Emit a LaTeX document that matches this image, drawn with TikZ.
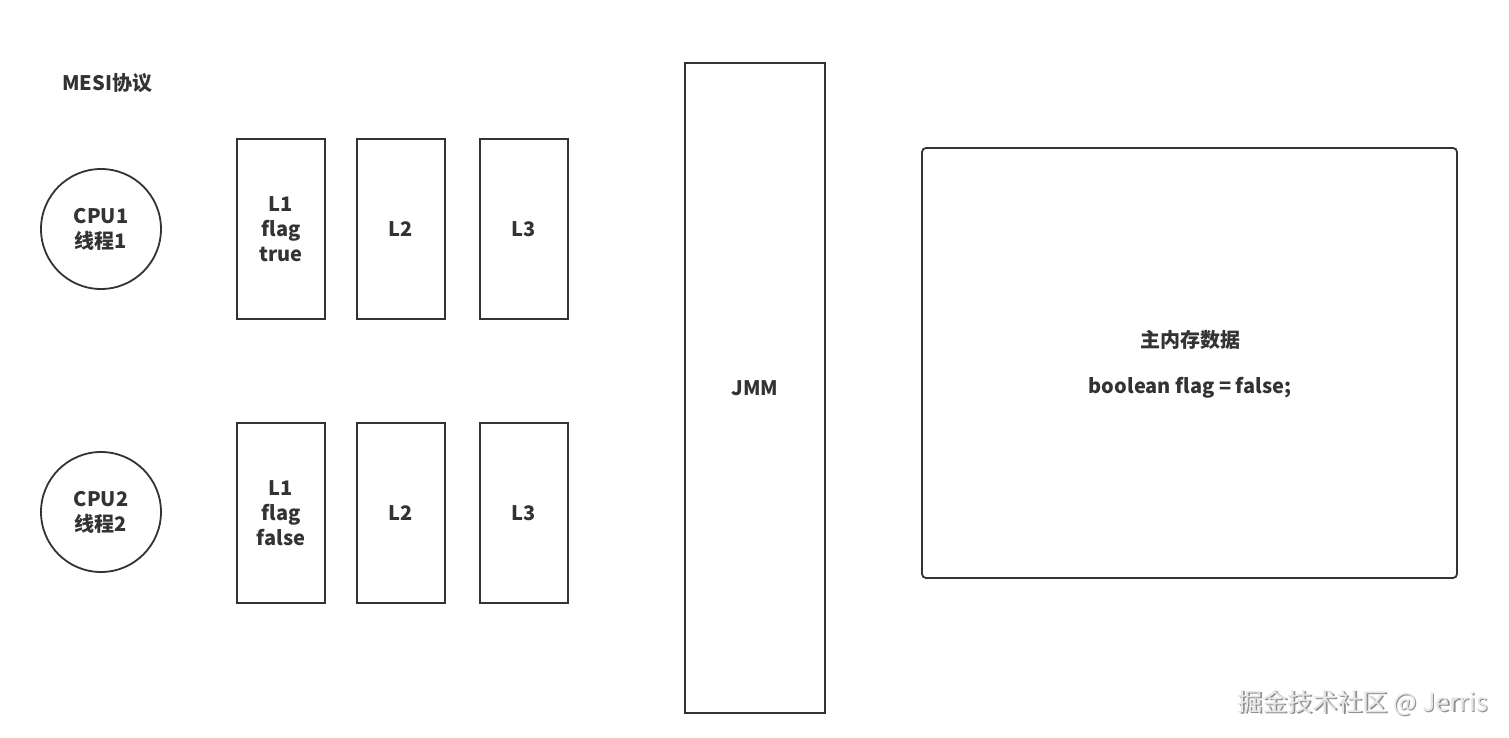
\documentclass[tikz,border=0pt]{standalone}
\usepackage{fontspec}
\setmainfont{Noto Sans CJK SC}
\begin{document}
\begin{tikzpicture}[x=1pt,y=-1pt,
  box/.style={draw=ink,line width=1.8pt,fill=white,inner sep=0pt,font=\bfseries\fontsize{20}{25}\selectfont,text=ink,align=center},
  cpu/.style={draw=ink,line width=1.8pt,circle,minimum size=120pt,inner sep=0pt,font=\bfseries\fontsize{20}{25}\selectfont,text=ink,align=center},
  lbl/.style={font=\bfseries\fontsize{20}{25}\selectfont,text=ink,align=center,inner sep=0pt}]
\definecolor{ink}{HTML}{333333}
\definecolor{wm}{HTML}{E6E6E6}
\useasboundingbox[fill=white] (0,0) rectangle (1509,738);
\node[lbl,anchor=west] (mesi) at (62,83) {MESI协议};
\node[cpu] (cpu1) at (101,229) {CPU1\\线程1};
\node[cpu] (cpu2) at (101,512) {CPU2\\线程2};
\node[box,minimum width=88pt,minimum height=180pt] (a1) at (281,229) {L1\\flag\\true};
\node[box,minimum width=88pt,minimum height=180pt] (a2) at (401,229) {L2};
\node[box,minimum width=88pt,minimum height=180pt] (a3) at (524,229) {L3};
\node[box,minimum width=88pt,minimum height=180pt] (b1) at (281,513) {L1\\flag\\false};
\node[box,minimum width=88pt,minimum height=180pt] (b2) at (401,513) {L2};
\node[box,minimum width=88pt,minimum height=180pt] (b3) at (524,513) {L3};
\node[box,minimum width=140pt,minimum height=650pt] (jmm) at (755,388) {JMM};
\node[box,rounded corners=4pt,minimum width=535pt,minimum height=430pt] (mem) at (1189.5,363) {};
\node[lbl] (memt) at (1190,340) {主内存数据};
\node[lbl] (flag) at (1190,388) {boolean flag = false;};
\node[font=\fontsize{25}{28}\selectfont,text=ink!55,inner sep=0pt,anchor=east] (wmsh) at (1489.3,704.3) {掘金技术社区 @ Jerris};
\node[font=\fontsize{25}{28}\selectfont,text=wm,inner sep=0pt,anchor=east] (wmt) at (1488,703) {掘金技术社区 @ Jerris};
\end{tikzpicture}
\end{document}
